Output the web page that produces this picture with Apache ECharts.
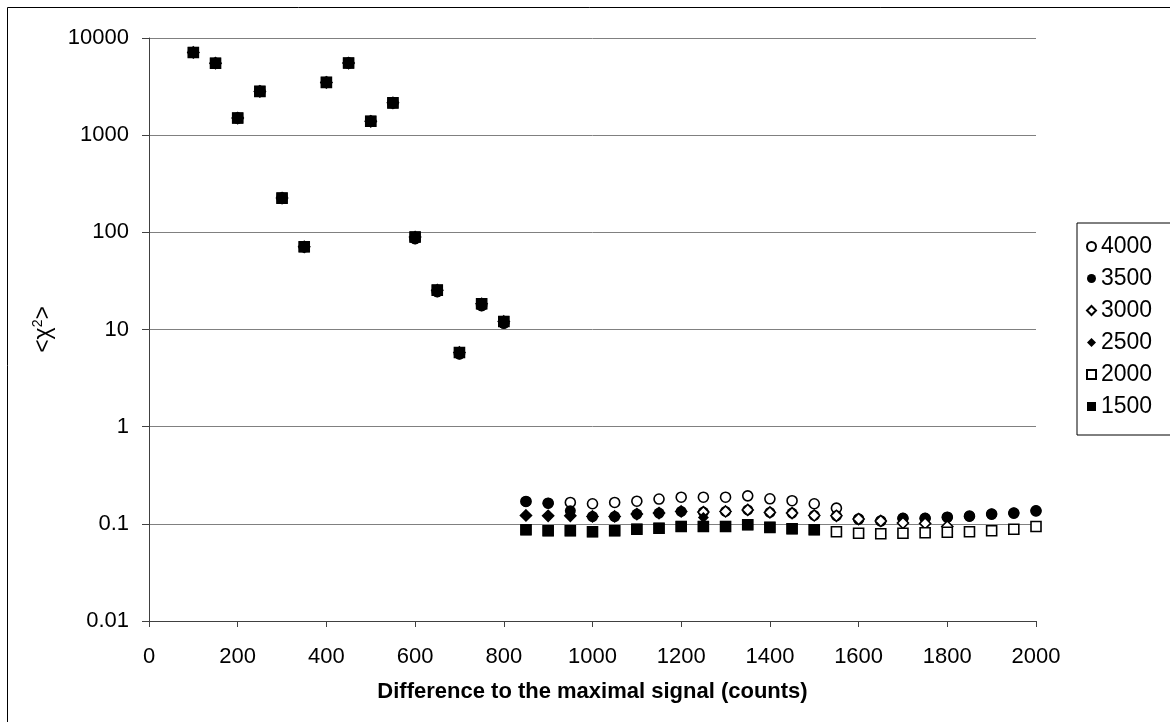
<!DOCTYPE html>
<html>
<head>
<meta charset="utf-8">
<script src="https://cdn.jsdelivr.net/npm/echarts@6/dist/echarts.min.js"></script>
<style>
html,body{margin:0;padding:0;background:#fff;}
#chart{width:1170px;height:722px;}
</style>
</head>
<body>
<div id="chart"></div>
<script>
// X positions: difference to the maximal signal (counts)
const xValues = [100,150,200,250,300,350,400,450,500,550,600,650,700,750,800,
  850,900,950,1000,1050,1100,1150,1200,1250,1300,1350,1400,1450,1500,1550,1600,1650,1700,1750,1800,1850,1900,1950,2000];

const seriesNames = ['4000','3500','3000','2500','2000','1500'];
const yTickLabels = ['0.01','0.1','1','10','100','1000','10000'];
const xTickLabels = ['0','200','400','600','800','1000','1200','1400','1600','1800','2000'];

const s4000 = [7100,5500,1500,2820,225,71,3490,5520,1390,2150,86,24.5,5.6,17.6,11.6,
  0.17,0.163,0.166,0.161,0.166,0.171,0.180,0.188,0.188,0.188,0.194,0.181,0.173,0.161,0.145,0.112,0.107,0.114,0.114,0.117,0.120,0.126,0.129,0.136];
const s3500 = [7100,5500,1500,2820,225,71,3490,5520,1390,2150,86,24.5,5.6,17.6,11.6,
  0.17,0.163,0.136,0.119,0.119,0.126,0.129,0.134,0.132,0.134,0.139,0.131,0.129,0.122,0.121,0.112,0.107,0.114,0.114,0.117,0.120,0.126,0.129,0.136];
const s3000 = [7100,5500,1500,2820,225,71,3490,5520,1390,2150,89.5,25.4,5.8,18.4,12.1,
  0.122,0.121,0.121,0.119,0.119,0.126,0.129,0.134,0.132,0.134,0.139,0.131,0.129,0.122,0.121,0.112,0.107,0.102,0.101,0.094,null,null,null,null];
const s2500 = [7100,5500,1500,2820,225,71,3490,5520,1390,2150,89.5,25.4,5.8,18.4,12.1,
  0.122,0.121,0.121,0.119,0.119,0.126,0.129,0.134,0.116,null,null,null,null,null,null,null,null,null,null,null,null,null,null,null];
const s2000 = [7100,5500,1500,2820,225,71,3490,5520,1390,2150,89.5,25.4,5.8,18.4,12.1,
  0.087,0.085,0.085,0.083,0.085,0.088,0.090,0.094,0.094,0.094,0.098,0.092,0.089,0.087,0.083,0.080,0.079,0.080,0.081,0.082,0.083,0.085,0.088,0.094];
const s1500 = [7100,5500,1500,2820,225,71,3490,5520,1390,2150,89.5,25.4,5.8,18.4,12.1,
  0.087,0.085,0.085,0.083,0.085,0.088,0.090,0.094,0.094,0.094,0.098,0.092,0.089,0.087,null,null,null,null,null,null,null,null,null,null];

function pairs(vals){
  const out = [];
  vals.forEach((v,i)=>{ if(v!==null) out.push([xValues[i], v]); });
  return out;
}

const FONT = '"Liberation Sans", Arial, Helvetica, sans-serif';

const styles = [
  {symbol:'circle', size:10, itemStyle:{color:'#fff', borderColor:'#000', borderWidth:1.6, opacity:1}},
  {symbol:'circle', size:11, itemStyle:{color:'#000', opacity:1}},
  {symbol:'diamond', size:11, itemStyle:{color:'#fff', borderColor:'#000', borderWidth:1.6, opacity:1}},
  {symbol:'diamond', size:11, itemStyle:{color:'#000', opacity:1}},
  {symbol:'rect', size:10, itemStyle:{color:'#fff', borderColor:'#000', borderWidth:1.6, opacity:1}},
  {symbol:'rect', size:11, itemStyle:{color:'#000', opacity:1}}
];
const allData = [s4000,s3500,s3000,s2500,s2000,s1500];

const chart = echarts.init(document.getElementById('chart'), null, {renderer:'canvas'});
chart.setOption({
  animation:false,
  backgroundColor:'#fff',
  textStyle:{fontFamily:FONT},
  grid:{left:149, top:38, right:134, bottom:101, containLabel:false},
  graphic:[{
    type:'rect', shape:{x:7.5,y:7.5,width:1300,height:900},
    style:{fill:null, stroke:'#000', lineWidth:1}, z:-1, silent:true
  }],
  legend:{
    orient:'vertical', left:1077, top:223,
    padding:[12,40,17,9],
    itemWidth:9, itemHeight:9, itemGap:9, itemTextGap:14,
    borderColor:'#000', borderWidth:1,
    textStyle:{fontSize:23, color:'#000', fontFamily:FONT, lineHeight:20},
    data:seriesNames
  },
  xAxis:{
    type:'value', min:0, max:2000, interval:200,
    name:'Difference to the maximal signal (counts)',
    nameLocation:'middle', nameGap:60,
    nameTextStyle:{fontSize:22, fontWeight:'bold', color:'#000', fontFamily:FONT},
    axisLine:{show:true, lineStyle:{color:'#404040', width:1}},
    axisTick:{show:true, inside:false, length:6, lineStyle:{color:'#404040'}},
    axisLabel:{fontSize:22, color:'#000', margin:25, fontFamily:FONT,
      formatter:(v)=>xTickLabels[Math.round(v/200)]},
    splitLine:{show:false}
  },
  yAxis:{
    type:'log', logBase:10, min:0.01, max:10000,
    name:'<χ{sup|2}>',
    nameLocation:'middle', nameGap:92, nameRotate:90,
    nameTextStyle:{fontSize:23, color:'#000', fontFamily:FONT,
      rich:{sup:{fontSize:14, verticalAlign:'top', padding:[0,0,12,0], fontFamily:FONT}}},
    axisLine:{show:true, lineStyle:{color:'#404040', width:1}},
    axisTick:{show:true, inside:false, length:7, lineStyle:{color:'#404040'}},
    axisLabel:{fontSize:22, color:'#000', margin:20, fontFamily:FONT,
      formatter:(v)=>yTickLabels[Math.round(Math.log10(v))+2]},
    splitLine:{show:true, lineStyle:{color:'#808080', width:1}}
  },
  series: seriesNames.map((n,i)=>({
    name:n, type:'scatter',
    symbol:styles[i].symbol, symbolSize:styles[i].size,
    itemStyle:styles[i].itemStyle,
    data:pairs(allData[i]),
    emphasis:{disabled:true}
  }))
});
</script>
</body>
</html>
